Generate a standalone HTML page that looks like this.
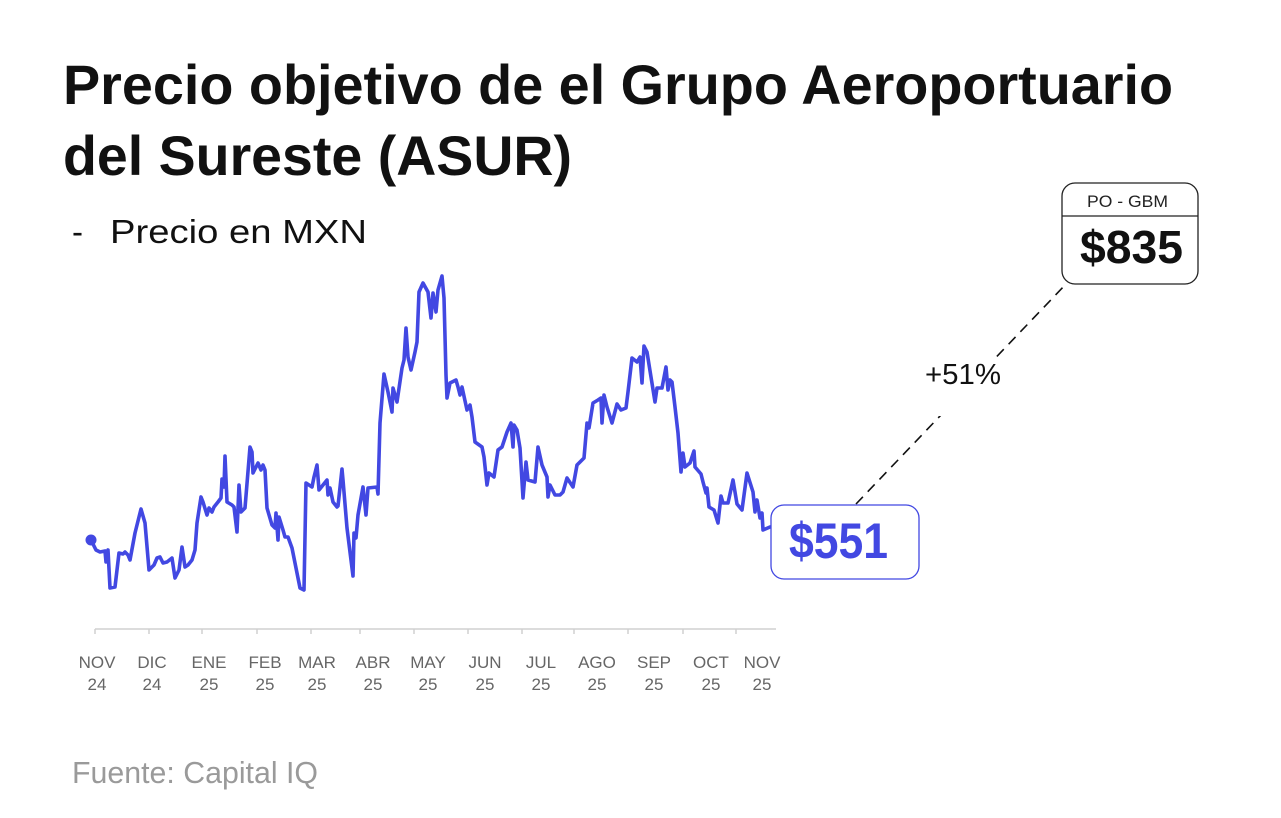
<!DOCTYPE html>
<html>
<head>
<meta charset="utf-8">
<style>
html,body{margin:0;padding:0;background:#fff;}
svg{display:block;}
text{font-family:"Liberation Sans",Arial,sans-serif;}
</style>
</head>
<body>
<svg width="1281" height="818" viewBox="0 0 1281 818" xmlns="http://www.w3.org/2000/svg">
<rect width="1281" height="818" fill="#fff"/>
<!-- Title -->
<text x="63" y="104" font-size="56" font-weight="bold" fill="#111" textLength="1110" lengthAdjust="spacingAndGlyphs">Precio objetivo de el Grupo Aeroportuario</text>
<text x="63" y="175" font-size="56" font-weight="bold" fill="#111" textLength="509" lengthAdjust="spacingAndGlyphs">del Sureste (ASUR)</text>
<!-- Subtitle -->
<text x="72" y="243" font-size="33" fill="#111">-</text>
<text x="110" y="243" font-size="33" fill="#111" textLength="257" lengthAdjust="spacingAndGlyphs">Precio en MXN</text>

<!-- Axis -->
<line x1="95" y1="629" x2="776" y2="629" stroke="#d0d0d0" stroke-width="1.5"/>
<g stroke="#d0d0d0" stroke-width="1.5">
<line x1="95" y1="629" x2="95" y2="634"/>
<line x1="149" y1="629" x2="149" y2="634"/>
<line x1="202" y1="629" x2="202" y2="634"/>
<line x1="257" y1="629" x2="257" y2="634"/>
<line x1="311" y1="629" x2="311" y2="634"/>
<line x1="360" y1="629" x2="360" y2="634"/>
<line x1="414" y1="629" x2="414" y2="634"/>
<line x1="468" y1="629" x2="468" y2="634"/>
<line x1="522" y1="629" x2="522" y2="634"/>
<line x1="574" y1="629" x2="574" y2="634"/>
<line x1="628" y1="629" x2="628" y2="634"/>
<line x1="683" y1="629" x2="683" y2="634"/>
<line x1="736" y1="629" x2="736" y2="634"/>
</g>
<g font-size="17" fill="#666" text-anchor="middle">
<text x="97" y="668">NOV</text><text x="97" y="690">24</text>
<text x="152" y="668">DIC</text><text x="152" y="690">24</text>
<text x="209" y="668">ENE</text><text x="209" y="690">25</text>
<text x="265" y="668">FEB</text><text x="265" y="690">25</text>
<text x="317" y="668">MAR</text><text x="317" y="690">25</text>
<text x="373" y="668">ABR</text><text x="373" y="690">25</text>
<text x="428" y="668">MAY</text><text x="428" y="690">25</text>
<text x="485" y="668">JUN</text><text x="485" y="690">25</text>
<text x="541" y="668">JUL</text><text x="541" y="690">25</text>
<text x="597" y="668">AGO</text><text x="597" y="690">25</text>
<text x="654" y="668">SEP</text><text x="654" y="690">25</text>
<text x="711" y="668">OCT</text><text x="711" y="690">25</text>
<text x="762" y="668">NOV</text><text x="762" y="690">25</text>
</g>

<!-- Series -->
<polyline fill="none" stroke="#4248E2" stroke-width="3.6" stroke-linejoin="round" stroke-linecap="round" points="
91,540 96,550 100,552 105,551 106,562 108,550 110,588 115,587 119,553 123,554 125,552 128,555 130,560 135,533 141,509 145,523 149,570 154,565 157,558 160,557 163,563 167,562 172,558 175,578 179,570 182,547 185,567 188,565 192,560 195,550 197,523 201,497 203,502 207,515 209,508 212,512 214,507 218,502 221,498 222,479 224,487 225,456 227,502 232,505 234,507 237,532 239,485 241,512 245,508 250,447 252,452 253,473 258,463 261,470 263,465 265,470 267,508 272,525 275,528 276,513 278,540 279,517 283,530 285,537 288,537 292,548 300,588 304,590 306,483 312,487 314,477 317,465 319,490 323,485 327,480 328,495 330,488 333,502 337,507 338,506 342,469 343,480 347,528 353,576 354,533 356,538 358,515 363,487 366,515 368,488 377,487 378,494 380,423 384,374 388,392 392,412 393,388 397,402 402,368 404,360 406,328 408,357 411,370 415,352 417,342 419,292 423,283 428,292 431,318 433,293 436,312 438,290 442,276 444,298 446,375 447,398 450,383 456,380 458,387 460,395 462,387 467,410 470,405 472,417 475,442 482,447 484,457 487,485 489,473 494,477 498,450 502,447 507,432 511,423 513,447 514,425 517,430 520,448 523,498 526,462 528,480 535,482 538,447 542,465 547,477 548,497 550,485 555,495 560,495 563,492 567,478 573,487 577,465 579,463 584,458 587,423 589,428 593,403 598,400 601,398 602,423 604,395 607,407 612,423 617,404 621,410 626,408 628,392 632,358 637,362 640,357 642,383 644,346 647,352 655,402 657,388 662,388 666,367 668,390 670,380 672,382 675,407 678,433 681,472 683,453 685,467 690,463 694,451 695,467 701,474 703,482 706,493 707,488 709,507 714,510 718,523 721,496 723,503 728,503 733,480 737,504 742,510 747,473 753,492 755,512 757,500 760,518 762,513 763,530 770,527"/>
<circle cx="91" cy="540" r="5.5" fill="#4248E2"/>

<!-- Dashed projection -->
<line x1="856" y1="504" x2="1067" y2="283" stroke="#111" stroke-width="1.6" stroke-dasharray="10,7"/>
<rect x="918" y="357" width="88" height="59" fill="#fff"/>
<text x="925" y="384" font-size="29" fill="#111" textLength="76" lengthAdjust="spacingAndGlyphs">+51%</text>

<!-- $551 box -->
<rect x="771" y="505" width="148" height="74" rx="13" ry="13" fill="#fff" stroke="#4248E2" stroke-width="1.3"/>
<text x="789" y="558" font-size="50" font-weight="bold" fill="#4248E2" textLength="99" lengthAdjust="spacingAndGlyphs">$551</text>

<!-- PO box -->
<rect x="1062" y="183" width="136" height="101" rx="13" ry="13" fill="#fff" stroke="#222" stroke-width="1.3"/>
<line x1="1062" y1="216" x2="1198" y2="216" stroke="#222" stroke-width="1.3"/>
<text x="1087" y="207" font-size="17" fill="#222" textLength="81" lengthAdjust="spacingAndGlyphs">PO - GBM</text>
<text x="1080" y="263" font-size="46" font-weight="bold" fill="#111" textLength="103" lengthAdjust="spacingAndGlyphs">$835</text>

<!-- Footer -->
<text x="72" y="783" font-size="31" fill="#9a9a9a" textLength="246" lengthAdjust="spacingAndGlyphs">Fuente: Capital IQ</text>
</svg>
</body>
</html>
